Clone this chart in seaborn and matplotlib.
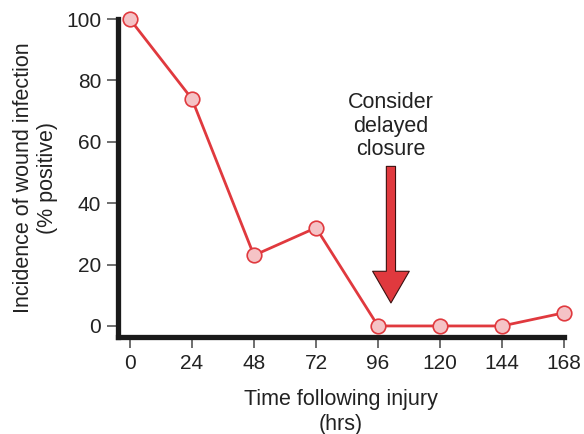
import matplotlib
matplotlib.use("Agg")
import matplotlib.pyplot as plt
import seaborn as sns
import pandas as pd

hours = [0, 24, 48, 72, 96, 120, 144, 168]
infection = [100, 74, 23, 32, 0, 0, 0, 4.3]
x_ticks = [0, 24, 48, 72, 96, 120, 144, 168]
y_ticks = [0, 20, 40, 60, 80, 100]

sns.set_theme(style="ticks")
plt.rcParams['font.family'] = ['Liberation Sans', 'DejaVu Sans']

df = pd.DataFrame({"hours": hours, "infection": infection})

fig = plt.figure(figsize=(5.84, 4.34), dpi=100)
ax = fig.add_axes([0.202, 0.2235, 0.764, 0.7325])

red = "#e0393e"
sns.lineplot(data=df, x="hours", y="infection", ax=ax, color=red, linewidth=2,
             marker="o", markersize=10.5, markerfacecolor="#f5c3c6",
             markeredgecolor=red, markeredgewidth=1.2, clip_on=False, zorder=5)

ax.set_xlim(-4.6, 168)
ax.set_ylim(-3.6, 100)
ax.set_xticks(x_ticks)
ax.set_yticks(y_ticks)
ax.tick_params(axis="both", labelsize=15, length=8, width=1.2, color="#555555",
               pad=4, labelcolor="#222222")
for s in ["top", "right"]:
    ax.spines[s].set_visible(False)
for s in ["left", "bottom"]:
    ax.spines[s].set_linewidth(3.8)
    ax.spines[s].set_color("#1a1a1a")
ax.spines["left"].set_bounds(-3.6, 100)

ax.set_xlabel("Time following injury\n(hrs)", fontsize=15.5, color="#222222", labelpad=12,
              linespacing=1.25)
ax.set_ylabel("Incidence of wound infection\n(% positive)", fontsize=15.5, color="#222222",
              labelpad=6, linespacing=1.2)

ax.annotate("", xy=(101, 7.5), xytext=(101, 52),
            arrowprops=dict(arrowstyle="simple,head_length=1.9,head_width=2.2,tail_width=0.55",
                            fc=red, ec="#3a1010", lw=0.8, shrinkA=0, shrinkB=0), zorder=6)
ax.text(101, 54, "Consider\ndelayed\nclosure", ha="center", va="bottom",
        fontsize=15.5, color="#222222", linespacing=1.17)

fig.savefig("out.png", dpi=100)
